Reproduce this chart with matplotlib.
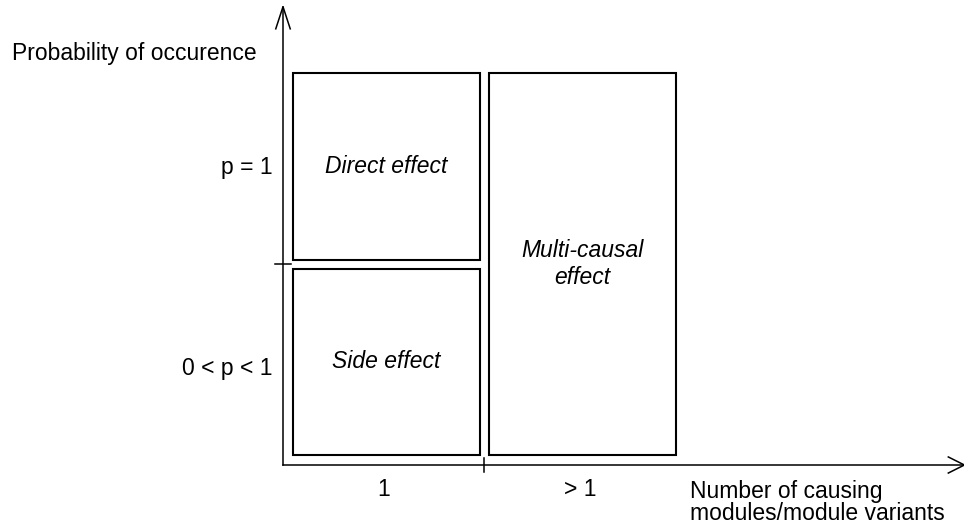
import matplotlib.pyplot as plt
from matplotlib.patches import Rectangle

plt.rcParams['font.family'] = ['Liberation Sans', 'DejaVu Sans']

# categories on each axis (one unit per category)
x_labels = ['1', '> 1']
y_labels = ['0 < p < 1', 'p = 1']
x_title = ['Number of causing', 'modules/module variants']
y_title = 'Probability of occurence'

# boxes: (label, x0, x1, y0, y1) in category units
boxes = [
    ('Side effect', 0.05, 0.98, 0.05, 0.975),
    ('Direct effect', 0.05, 0.98, 1.02, 1.95),
    ('Multi-causal\neffect', 1.025, 1.955, 0.05, 1.95),
]

fs = 16.5
px = 1 / 201  # one pixel in data units
fig = plt.figure(figsize=(9.64, 5.26), dpi=100)
ax = fig.add_axes([0, 0, 1, 1])
ax.set_xlim(-283 * px, 681 * px)
ax.set_ylim(-61 * px, 465 * px)
ax.axis('off')

# axes with open arrow heads
ax.plot([0, 3.39], [0, 0], color='black', lw=1.1)
ax.plot([3.31, 3.39, 3.31], [0.04, 0, -0.04], color='black', lw=1.1)
ax.plot([0, 0], [0, 2.28], color='black', lw=1.1)
ax.plot([-0.036, 0, 0.036], [2.17, 2.28, 2.17], color='black', lw=1.1)

# category separators
ax.plot([1, 1], [-0.037, 0.037], color='black', lw=1.1)
ax.plot([-0.04, 0.04], [1, 1], color='black', lw=1.1)

for label, x0, x1, y0, y1 in boxes:
    ax.add_patch(Rectangle((x0, y0), x1 - x0, y1 - y0, fill=False,
                           edgecolor='black', lw=1.5))
    lines = label.split('\n')
    yc = (y0 + y1) / 2 - 6.5 * px + (len(lines) - 1) * 13.5 * px
    for k, ln in enumerate(lines):
        ax.text((x0 + x1) / 2, yc - k * 27 * px, ln, ha='center',
                va='baseline', style='italic', fontsize=fs)

for i, lab in enumerate(x_labels):
    ax.text(i + 0.5 - 0.02 * i, -31 * px, lab, ha='center', va='baseline',
            fontsize=fs)
for i, lab in enumerate(y_labels):
    ax.text(-10 * px, i + 90 * px, lab, ha='right', va='baseline',
            fontsize=fs)

ax.text(-271 * px, 405 * px, y_title, ha='left', va='baseline', fontsize=fs)
ax.text(407 * px, -33 * px, x_title[0], ha='left', va='baseline', fontsize=fs)
ax.text(407 * px, -55 * px, x_title[1], ha='left', va='baseline', fontsize=fs)

fig.savefig('out.png', dpi=100, facecolor='white')
